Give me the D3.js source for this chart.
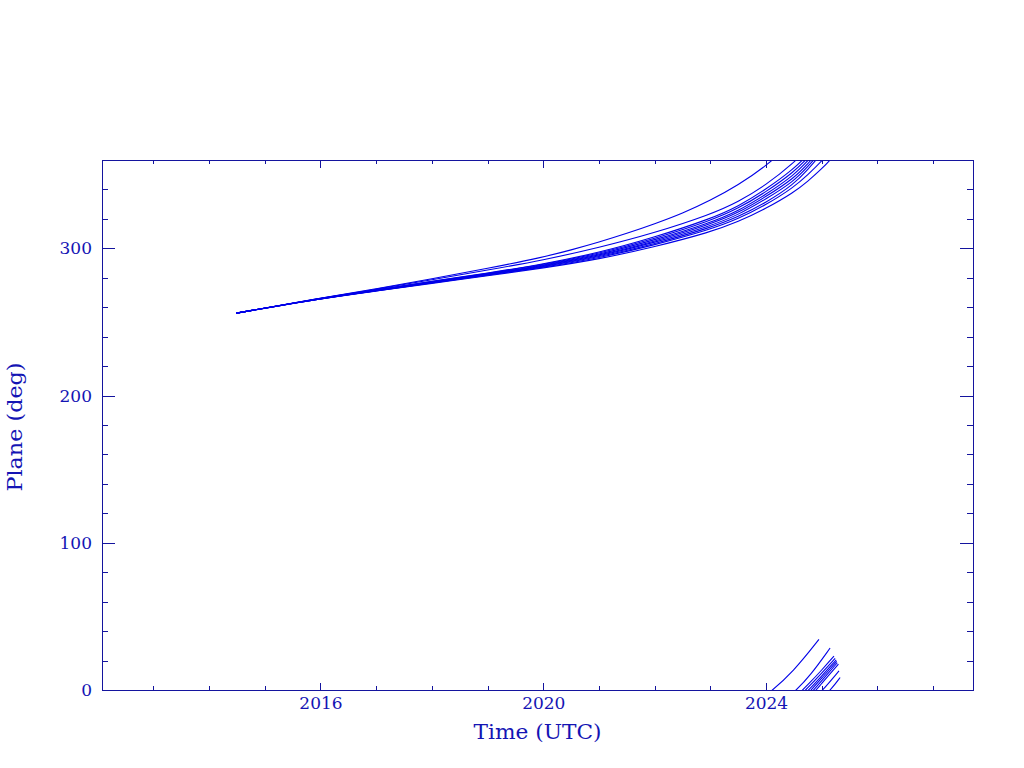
<!DOCTYPE html>
<html><head><meta charset="utf-8">
<script src="https://cdn.jsdelivr.net/npm/d3@7"></script>
<style>body{margin:0;background:#fff;overflow:hidden}</style>
</head><body><svg id="c" width="1024" height="768"></svg>
<script>
// ---- data ----
const xMajorTicks = [2016, 2020, 2024];
const xMinorTicks = [2013, 2014, 2015, 2016, 2017, 2018, 2019, 2020, 2021, 2022, 2023, 2024, 2025, 2026, 2027];
const yMajorTicks = [0, 100, 200, 300];
const yMinorTicks = [20, 40, 60, 80, 120, 140, 160, 180, 220, 240, 260, 280, 320, 340];
const xTitle = "Time (UTC)";
const yTitle = "Plane (deg)";
// each curve: [decimal year, plane angle in degrees (unwrapped)]
const curve1 = [[2014.49,256],[2016,266.3],[2017,272.5],[2018,279.3],[2019,286.3],[2020,294],[2020.5,298.9],[2021,304.2],[2021.5,310.1],[2022,316.6],[2022.5,323.7],[2023,332.5],[2023.5,343],[2024,355.8],[2024.5,372.8],[2024.95,394.4]];
const curve2 = [[2014.49,256],[2016,266.2],[2017,272.2],[2018,278.7],[2019,285.2],[2020,292],[2021,300.5],[2022,310.5],[2023,323],[2023.5,331.5],[2024,343],[2024.5,358],[2024.8,370],[2025.15,388.5]];
const curve3 = [[2014.49,256],[2016,266.1],[2017,271.8],[2018,277.6],[2019,283.2],[2020,289.3],[2021,297],[2022,307.5],[2023,320],[2023.5,328.5],[2024,340],[2024.5,354],[2024.75,363.5],[2025,373.5],[2025.22,383]];
const curve4 = [[2014.49,256],[2016,266.05],[2017,271.7],[2018,277.4],[2019,282.9],[2020,288.9],[2021,296.4],[2022,306.5],[2023,318.7],[2023.5,327],[2024,338.3],[2024.5,351.8],[2024.75,361.5],[2025,371.5],[2025.24,381.5]];
const curve5 = [[2014.49,256],[2016,266.0],[2017,271.5],[2018,277.2],[2019,282.7],[2020,288.5],[2021,295.7],[2022,305.6],[2023,317.4],[2023.5,325.4],[2024,336.6],[2024.5,349.5],[2024.75,359.5],[2025,369.5],[2025.26,380.5]];
const curve6 = [[2014.49,256],[2016,266.0],[2017,271.4],[2018,277.0],[2019,282.4],[2020,288.2],[2021,295.1],[2022,304.7],[2023,316.3],[2023.5,324.1],[2024,335.1],[2024.5,347.5],[2024.75,357.5],[2025,368],[2025.27,379.5]];
const curve7 = [[2014.49,256],[2016,265.95],[2017,271.3],[2018,276.8],[2019,282.2],[2020,287.8],[2021,294.6],[2022,303.9],[2023,315.1],[2023.5,322.7],[2024,333.5],[2024.5,345.5],[2024.75,355.5],[2025,366.3],[2025.28,378.5]];
const curve8 = [[2014.49,256],[2016,265.9],[2017,271.2],[2018,276.6],[2019,281.9],[2020,287.5],[2021,294.0],[2022,303.0],[2023,314.0],[2023.5,321.4],[2024,331.0],[2024.5,343.5],[2024.75,353.5],[2025,364.5],[2025.3,377.5]];
const curve9 = [[2014.49,256],[2016,265.9],[2017,271.1],[2018,276.4],[2019,281.7],[2020,287.1],[2021,293.4],[2022,302.2],[2023,312.8],[2023.5,320],[2024,329.5],[2024.5,341.5],[2024.75,350],[2025,359],[2025.31,373]];
const curve10 = [[2014.49,256],[2016,265.9],[2017,271],[2018,276.2],[2019,281.3],[2020,286.6],[2021,292.6],[2022,301],[2023,311],[2023.5,318],[2024,327],[2024.5,338],[2024.75,345.5],[2025,354],[2025.18,361],[2025.33,368.5]];
const curves = [curve1, curve2, curve3, curve4, curve5, curve6, curve7, curve8, curve9, curve10];
const wrapOffsets = [0, 360];

// ---- layout ----
const L = 102, R = 973, T = 160, B = 690;
const frameCol = "#14149e", textCol = "#1414b4", lineCol = "#0000e8";
const svg = d3.select("#c");
const x = d3.scaleLinear().domain([2012.077, 2027.716]).range([L, R]);
const y = d3.scaleLinear().domain([0, 360]).range([B, T]);

svg.append("defs").append("clipPath").attr("id", "plot")
  .append("rect").attr("x", L).attr("y", T).attr("width", R - L).attr("height", B - T);

// curves
const line = d3.line().x(d => x(d[0])).y(d => y(d[1])).curve(d3.curveBasis);
const gc = svg.append("g").attr("clip-path", "url(#plot)");
curves.forEach(c => {
  wrapOffsets.forEach(off => {
    gc.append("path")
      .attr("d", line(c.map(d => [d[0], d[1] - off])))
      .attr("fill", "none").attr("stroke", lineCol).attr("stroke-width", 1.1);
  });
});

// axes helpers
function style(g) {
  g.select(".domain").remove();
  g.selectAll("line").attr("stroke", frameCol).attr("shape-rendering", "crispEdges");
  g.selectAll("text").attr("fill", textCol).attr("font-family", "DejaVu Serif").attr("font-size", 17);
  g.attr("font-family", null).attr("font-size", null);
}
const fmt = d3.format("d");
// bottom
svg.append("g").attr("transform", `translate(0,${B})`)
  .call(d3.axisBottom(x).tickValues(xMinorTicks).tickSize(-3.8).tickFormat("")).call(style);
svg.append("g").attr("transform", `translate(0,${B})`)
  .call(d3.axisBottom(x).tickValues(xMajorTicks).tickSize(-7.5).tickPadding(7).tickFormat(fmt)).call(style);
// top
svg.append("g").attr("transform", `translate(0,${T})`)
  .call(d3.axisTop(x).tickValues(xMinorTicks).tickSize(-3.8).tickFormat("")).call(style);
svg.append("g").attr("transform", `translate(0,${T})`)
  .call(d3.axisTop(x).tickValues(xMajorTicks).tickSize(-7.5).tickFormat("")).call(style);
// left
svg.append("g").attr("transform", `translate(${L},0)`)
  .call(d3.axisLeft(y).tickValues(yMinorTicks).tickSize(-6.3).tickFormat("")).call(style);
svg.append("g").attr("transform", `translate(${L},0)`)
  .call(d3.axisLeft(y).tickValues(yMajorTicks).tickSize(-12.6).tickPadding(10).tickFormat(fmt)).call(style);
// right
svg.append("g").attr("transform", `translate(${R},0)`)
  .call(d3.axisRight(y).tickValues(yMinorTicks).tickSize(-6.3).tickFormat("")).call(style);
svg.append("g").attr("transform", `translate(${R},0)`)
  .call(d3.axisRight(y).tickValues(yMajorTicks).tickSize(-12.6).tickFormat("")).call(style);

// frame
svg.append("rect").attr("x", L + 0.5).attr("y", T + 0.5).attr("width", R - L).attr("height", B - T)
  .attr("fill", "none").attr("stroke", frameCol).attr("stroke-width", 1).attr("shape-rendering", "crispEdges");

// titles
svg.append("text").attr("x", (L + R) / 2).attr("y", 738.5).attr("text-anchor", "middle")
  .attr("font-family", "DejaVu Serif").attr("font-size", 20.5).attr("fill", textCol)
  .attr("textLength", 128).attr("lengthAdjust", "spacingAndGlyphs").text(xTitle);
svg.append("text").attr("transform", `translate(21.5,${(T + B) / 2 + 2}) rotate(-90)`).attr("text-anchor", "middle")
  .attr("font-family", "DejaVu Serif").attr("font-size", 20.5).attr("fill", textCol)
  .attr("textLength", 129).attr("lengthAdjust", "spacingAndGlyphs").text(yTitle);
</script></body></html>
